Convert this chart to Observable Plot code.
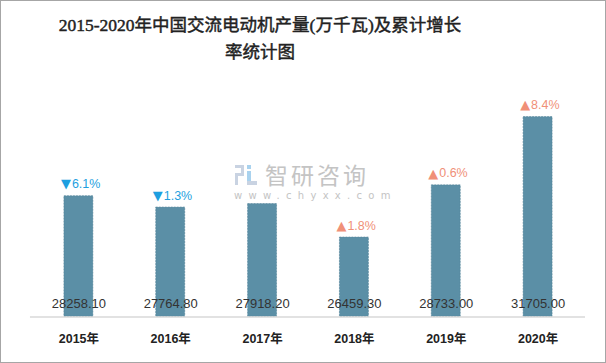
<!DOCTYPE html>
<html>
<head>
<meta charset="utf-8">
<script src="https://cdn.jsdelivr.net/npm/d3@7"></script>
<script src="https://cdn.jsdelivr.net/npm/@observablehq/plot@0.6"></script>
<style>
  html, body { margin: 0; padding: 0; background: #fff; }
  #wrap { position: relative; width: 606px; height: 363px; box-sizing: border-box; border: 1px solid #a6a6a6; overflow: hidden; background:#fff; }
  #title { position: absolute; left: 0; width: 518px; top: 11px; text-align: center; font-family: "Liberation Serif", "Noto Sans CJK SC", serif; font-weight: normal; -webkit-text-stroke: 0.45px #222; font-size: 17.5px; line-height: 27px; color: #222; }
  #chart { position: absolute; left: -1px; top: -1px; }
  #wm1 { position: absolute; left: 264px; top: 161px; font-family: "Noto Sans CJK SC", sans-serif; font-size: 23px; color: #c4c4c4; letter-spacing: 3px; line-height: 24px; }
  #wm2 { position: absolute; left: 233px; top: 189px; font-family: "DejaVu Sans", sans-serif; font-size: 10px; line-height: 11px; color: #c4c4c4; letter-spacing: 6.3px; }
  #wmicon { position: absolute; left: 234px; top: 164px; width: 22px; height: 20px; }
</style>
</head>
<body>
<div id="wrap">
  <div id="chart"></div>
  <svg id="wmicon" viewBox="0 0 22 20">
    <rect x="0" y="0" width="9" height="3" fill="#c9d3e2"/>
    <rect x="6" y="0" width="3" height="9" fill="#c9d3e2"/>
    <rect x="0" y="8" width="9" height="3" fill="#c9d3e2"/>
    <rect x="0" y="8" width="3" height="12" fill="#c9d3e2"/>
    <rect x="12" y="0" width="4" height="4" fill="#a9d2ee"/>
    <rect x="12" y="6" width="4" height="10" fill="#a9d2ee"/>
    <rect x="12" y="16" width="10" height="4" fill="#c9d3e2"/>
  </svg>
  <div id="wm1">智研咨询</div>
  <div id="wm2">www.chyxx.com</div>
  <div id="title">2015-2020年中国交流电动机产量(万千瓦)及累计增长<br>率统计图</div>
</div>
<script>
const years = ["2015年", "2016年", "2017年", "2018年", "2019年", "2020年"];
const output = [28258.10, 27764.80, 27918.20, 26459.30, 28733.00, 31705.00];
const growth = [-6.1, -1.3, null, 1.8, 0.6, 8.4];
const yMin = 23000;
const yMax = 33000;

const data = years.map((year, i) => ({year, value: output[i], growth: growth[i]}));
const labeled = data.filter(d => d.growth != null);
const growthColor = d => d.growth < 0 ? "#1e9fe0" : "#f09078";

const chart = Plot.plot({
  width: 606,
  height: 363,
  marginLeft: 30,
  marginRight: 20,
  marginTop: 87,
  marginBottom: 46,
  style: {fontFamily: "'Noto Sans CJK SC', sans-serif", background: "transparent"},
  x: {domain: years, paddingInner: 0.69, paddingOuter: 0.345, label: null},
  y: {domain: [yMin, yMax], axis: null},
  marks: [
    Plot.barY(data, {x: "year", y1: yMin, y2: "value", fill: "#5b8fa6", stroke: "#4f7f96", strokeDasharray: "2,1", strokeWidth: 0.6}),
    Plot.ruleY([yMin], {stroke: "#d9d9d9", strokeWidth: 1.5}),
    Plot.axisX({tickSize: 0, tickPadding: 17, fontSize: 12.5, fontWeight: "bold", fill: "#222", fontFamily: "'Liberation Sans', 'Noto Sans CJK SC', sans-serif", label: null}),
    Plot.text(data, {x: "year", y: yMin, dy: -13, text: d => d3.format(".2f")(d.value), fontSize: 13, fill: "#333", fontFamily: "'Liberation Sans', sans-serif"}),
    Plot.text(labeled, {x: "year", y: "value", dy: -12, dx: -8, textAnchor: "end", text: d => d.growth < 0 ? "▼" : "▲", fontSize: 13, fill: growthColor, fontFamily: "'DejaVu Sans', sans-serif"}),
    Plot.text(labeled, {x: "year", y: "value", dy: -12, dx: -7, textAnchor: "start", text: d => Math.abs(d.growth).toFixed(1) + "%", fontSize: 12.5, fill: growthColor, fontFamily: "'Liberation Sans', sans-serif"})
  ]
});
document.getElementById("chart").appendChild(chart);
</script>
</body>
</html>
